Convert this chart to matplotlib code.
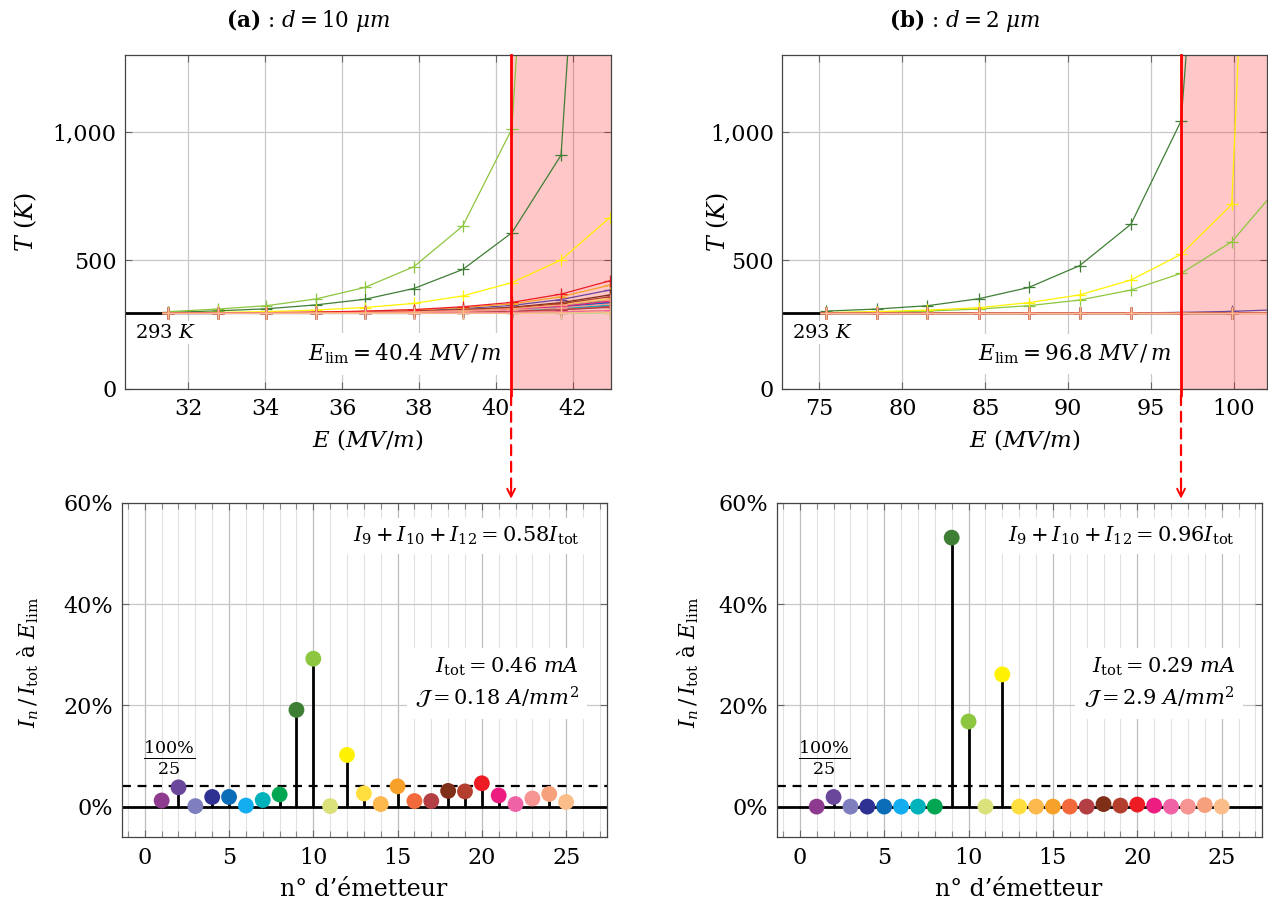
import matplotlib
matplotlib.use('Agg')
import matplotlib.pyplot as plt
from matplotlib.patches import ConnectionPatch
from matplotlib.transforms import blended_transform_factory
from matplotlib.ticker import FuncFormatter, MultipleLocator

plt.rcParams['font.family'] = ['DejaVu Serif']
plt.rcParams['mathtext.fontset'] = 'dejavuserif'

# couleurs des 25 émetteurs
colors = ['#8E3B8F', '#6A479B', '#7F7FBF', '#2E3192', '#0B6DB7',
          '#12AEEF', '#00B3BA', '#00A651', '#3F7E35', '#8DC63F',
          '#DCE27B', '#FFF200', '#FFDE40', '#FDB94E', '#F7A12A',
          '#F26A3C', '#B33F45', '#7F2F18', '#B43E2D', '#ED1C24',
          '#EC1C80', '#F062A6', '#F69491', '#F7A07C', '#FBBE8B']

# (a) d = 10 um : champ E (MV/m) et température T (K) de chaque émetteur
E_a = [31.48, 32.76, 34.03, 35.31, 36.59, 37.87, 39.14, 40.42, 41.70, 42.97]
T_a = [
    [293, 293, 294, 294, 295, 296, 299, 303, 310, 322],
    [294, 294, 295, 297, 299, 304, 312, 324, 347, 384],
    [293, 293, 293, 293, 293, 293, 293, 294, 295, 296],
    [293, 293, 294, 295, 296, 298, 302, 307, 318, 335],
    [293, 293, 294, 295, 296, 298, 302, 307, 318, 336],
    [293, 293, 293, 293, 293, 293, 294, 294, 295, 297],
    [293, 293, 294, 294, 295, 297, 300, 304, 312, 325],
    [293, 294, 294, 295, 297, 299, 304, 311, 324, 345],
    [297, 303, 311, 326, 348, 390, 464, 607, 909, 3800],
    [300, 310, 323, 349, 394, 475, 633, 1011, 4100, 9000],
    [293, 293, 293, 293, 293, 293, 293, 293, 294, 295],
    [295, 297, 300, 306, 316, 332, 361, 413, 501, 666],
    [293, 294, 294, 295, 297, 300, 305, 312, 327, 350],
    [293, 293, 293, 293, 294, 294, 295, 297, 300, 305],
    [294, 294, 296, 297, 301, 306, 316, 330, 358, 403],
    [293, 293, 294, 294, 295, 296, 298, 301, 308, 318],
    [293, 293, 294, 294, 295, 296, 298, 301, 307, 317],
    [294, 294, 295, 296, 298, 301, 308, 317, 335, 365],
    [294, 294, 295, 296, 298, 301, 306, 315, 331, 358],
    [294, 295, 296, 298, 302, 308, 319, 336, 368, 420],
    [293, 294, 294, 295, 296, 299, 303, 309, 321, 340],
    [293, 293, 293, 293, 294, 294, 295, 297, 299, 304],
    [293, 293, 294, 294, 296, 297, 301, 306, 315, 330],
    [293, 294, 294, 295, 297, 299, 304, 311, 325, 347],
    [293, 293, 293, 293, 293, 293, 294, 294, 295, 298],
]

# (b) d = 2 um
E_b = [75.40, 78.45, 81.52, 84.60, 87.62, 90.69, 93.78, 96.81, 99.86, 102.90]
T_b = [
    [293, 293, 293, 293, 293, 293, 293, 293, 293, 294],
    [293, 293, 293, 293, 294, 294, 295, 297, 301, 308],
    [293, 293, 293, 293, 293, 293, 293, 293, 293, 294],
    [293, 293, 293, 293, 293, 293, 293, 293, 293, 294],
    [293, 293, 293, 293, 293, 293, 293, 293, 293, 294],
    [293, 293, 293, 293, 293, 293, 293, 293, 293, 294],
    [293, 293, 293, 293, 293, 293, 293, 293, 293, 294],
    [293, 293, 293, 293, 293, 293, 293, 293, 293, 294],
    [302, 310, 323, 350, 394, 479, 640, 1043, 3660, 9000],
    [296, 298, 302, 310, 323, 345, 384, 449, 572, 802],
    [293, 293, 293, 293, 293, 293, 293, 293, 293, 293],
    [296, 300, 306, 315, 335, 365, 423, 523, 717, 5260],
    [293, 293, 293, 293, 293, 293, 293, 293, 293, 294],
    [293, 293, 293, 293, 293, 293, 293, 293, 293, 293],
    [293, 293, 293, 293, 293, 293, 293, 293, 293, 294],
    [293, 293, 293, 293, 293, 293, 293, 293, 293, 294],
    [293, 293, 293, 293, 293, 293, 293, 293, 293, 294],
    [293, 293, 293, 293, 293, 293, 293, 293, 294, 295],
    [293, 293, 293, 293, 293, 293, 293, 293, 293, 294],
    [293, 293, 293, 293, 293, 293, 293, 293, 294, 295],
    [293, 293, 293, 293, 293, 293, 293, 293, 293, 294],
    [293, 293, 293, 293, 293, 293, 293, 293, 293, 293],
    [293, 293, 293, 293, 293, 293, 293, 293, 293, 293],
    [293, 293, 293, 293, 293, 293, 293, 293, 293, 294],
    [293, 293, 293, 293, 293, 293, 293, 293, 293, 293],
]

# part du courant total de chaque émetteur à E_lim (%)
n_emit = list(range(1, 26))
I_a = [1.2, 3.8, 0.1, 1.9, 1.9, 0.2, 1.3, 2.4, 19.1, 29.2, 0.1, 10.2, 2.6,
       0.5, 4.0, 1.1, 1.1, 3.1, 3.0, 4.6, 2.2, 0.5, 1.6, 2.5, 0.9]
I_b = [0.0, 1.9, 0.0, 0.0, 0.0, 0.0, 0.0, 0.0, 53.1, 16.8, 0.0, 26.1, 0.0,
       0.0, 0.0, 0.0, 0.0, 0.5, 0.2, 0.4, 0.2, 0.0, 0.0, 0.3, 0.0]

E_lim_a = 40.4
E_lim_b = 96.8
T0 = 293

W, H = 1268, 908
fig = plt.figure(figsize=(W / 100, H / 100), dpi=100)


def rect(l, t, r, b):
    return [l / W, 1 - b / H, (r - l) / W, (b - t) / H]


ax1 = fig.add_axes(rect(125, 54.7, 611, 388.7))
ax2 = fig.add_axes(rect(782.3, 54.7, 1267.3, 388.7))
ax3 = fig.add_axes(rect(121.7, 502.7, 606.7, 837.3))
ax4 = fig.add_axes(rect(776.7, 502.7, 1262.3, 837.3))

GRID = '#c8c8c8'


def style(ax):
    for s in ax.spines.values():
        s.set_color('#444444')
        s.set_linewidth(0.9)
    ax.tick_params(which='both', direction='in', top=True, right=True,
                   color='#666666', labelsize=16)
    ax.tick_params(which='major', length=5, width=0.8)
    ax.tick_params(axis='x', pad=7)
    ax.tick_params(axis='y', pad=6)


def top_panel(ax, E, T, xlim, xstep, elim, lbl293, lbllim, txtlim):
    style(ax)
    ax.set_xlim(*xlim)
    ax.set_ylim(0, 1300)
    ax.xaxis.set_major_locator(MultipleLocator(xstep))
    ax.set_yticks([0, 500, 1000])
    ax.yaxis.set_major_formatter(FuncFormatter(lambda v, p: '{:,.0f}'.format(v)))
    ax.grid(True, color=GRID, lw=0.9)
    ax.set_axisbelow(True)
    ax.axvspan(elim, xlim[1], color='red', alpha=0.22, lw=0, zorder=1.6)
    ax.plot([xlim[0], E[0]], [T0, T0], color='black', lw=2, zorder=2)
    for row, c in zip(T, colors):
        ax.plot(E, row, color=c, lw=0.9, marker='+', ms=9, mew=0.9, zorder=2.2)
    ax.plot([elim, elim], [-25, 1300], color='red', lw=2, clip_on=False, zorder=4)
    ax.text(lbl293, 218, r'$293\ K$', fontsize=14, ha='left', va='center',
            bbox=dict(fc='white', ec='none', pad=2), zorder=5)
    ax.text(lbllim, 135, txtlim, fontsize=15.5, ha='right', va='center',
            bbox=dict(fc='white', ec='none', pad=6), zorder=5)


def bottom_panel(ax, I, txt_sum, txt_tot):
    style(ax)
    ax.set_xlim(-1.37, 27.41)
    ax.set_ylim(-6.06, 60)
    ax.xaxis.set_major_locator(MultipleLocator(5))
    ax.xaxis.set_minor_locator(MultipleLocator(1))
    ax.set_yticks([0, 20, 40, 60])
    ax.yaxis.set_major_formatter(FuncFormatter(lambda v, p: '{:.0f}%'.format(v)))
    ax.tick_params(which='minor', length=4, width=0.8, color='#888888')
    ax.grid(True, which='minor', axis='x', color='#e2e2e2', lw=0.8)
    ax.grid(True, which='major', axis='x', color='#bdbdbd', lw=0.9)
    ax.grid(True, which='major', axis='y', color=GRID, lw=0.9)
    ax.set_axisbelow(True)
    ax.axhline(0, color='black', lw=2, zorder=2)
    ax.axhline(100 / 25, color='black', lw=1.6, ls=(0, (4, 3)), zorder=2)
    ax.vlines(n_emit, 0, I, color='black', lw=2, zorder=2.5)
    ax.scatter(n_emit, I, s=130, c=colors, zorder=3, linewidths=0)
    ax.text(1.45, 9.6, r'$\frac{100\%}{25}$', fontsize=18, ha='center', va='center')
    ax.text(25.77, 53.4, txt_sum, fontsize=15, ha='right', va='center',
            bbox=dict(fc='white', ec='none', pad=5), zorder=4)
    ax.text(25.77, 24.4, txt_tot, fontsize=15, ha='right', va='center',
            linespacing=1.3, bbox=dict(fc='white', ec='none', pad=6), zorder=4)


top_panel(ax1, E_a, T_a, (30.35, 43.0), 2, E_lim_a, 30.62, 40.15,
          r'$E_{\mathrm{lim}} = 40.4\ MV\,/\,m$')
top_panel(ax2, E_b, T_b, (72.77, 102.0), 5, E_lim_b, 73.34, 96.19,
          r'$E_{\mathrm{lim}} = 96.8\ MV\,/\,m$')
bottom_panel(ax3, I_a, r'$I_9 + I_{10} + I_{12} = 0.58 I_{\mathrm{tot}}$',
             r'$I_{\mathrm{tot}} = 0.46\ mA$' + '\n' + r'$\mathcal{J} = 0.18\ A/mm^2$')
bottom_panel(ax4, I_b, r'$I_9 + I_{10} + I_{12} = 0.96 I_{\mathrm{tot}}$',
             r'$I_{\mathrm{tot}} = 0.29\ mA$' + '\n' + r'$\mathcal{J} = 2.9\ A/mm^2$')

# flèches rouges entre E_lim et le graphe du bas
for axt, axb, elim in [(ax1, ax3, E_lim_a), (ax2, ax4, E_lim_b)]:
    tb = blended_transform_factory(axt.transData, axb.transAxes)
    con = ConnectionPatch(xyA=(elim, -25), coordsA=axt.transData,
                          xyB=(elim, 1.035), coordsB=tb,
                          color='red', lw=1.6, ls=(0, (4.5, 3)))
    fig.add_artist(con)
    axb.annotate('', xy=(elim, 1.012), xycoords=tb, xytext=(elim, 1.04),
                 textcoords=tb, annotation_clip=False,
                 arrowprops=dict(arrowstyle='->', color='red', lw=1.4,
                                 mutation_scale=14, shrinkA=0, shrinkB=0))

# titres et étiquettes d'axes
fig.text(308 / W, 1 - 20 / H, r'$\mathbf{(a)}$ : $d = 10\ \mu m$', fontsize=15.5,
         ha='center', va='center')
fig.text(965 / W, 1 - 20 / H, r'$\mathbf{(b)}$ : $d = 2\ \mu m$', fontsize=15.5,
         ha='center', va='center')
fig.text(26 / W, 1 - 222 / H, r'$T$ $(K)$', fontsize=17, rotation=90,
         ha='center', va='center')
fig.text(718 / W, 1 - 222 / H, r'$T$ $(K)$', fontsize=17, rotation=90,
         ha='center', va='center')
fig.text(28 / W, 1 - 662 / H, r'$I_n\,/\,I_{\mathrm{tot}}$ à $E_{\mathrm{lim}}$',
         fontsize=15.5, rotation=90, ha='center', va='center')
fig.text(688 / W, 1 - 662 / H, r'$I_n\,/\,I_{\mathrm{tot}}$ à $E_{\mathrm{lim}}$',
         fontsize=15.5, rotation=90, ha='center', va='center')
fig.text(368 / W, 1 - 440 / H, r'$E\ (MV/m)$', fontsize=16.5, ha='center', va='center')
fig.text(1025 / W, 1 - 440 / H, r'$E\ (MV/m)$', fontsize=16.5, ha='center', va='center')
fig.text(364 / W, 1 - 889 / H, 'n° d’émetteur', fontsize=17, ha='center', va='center')
fig.text(1019 / W, 1 - 889 / H, 'n° d’émetteur', fontsize=17, ha='center', va='center')

fig.savefig('out.png', dpi=100)
